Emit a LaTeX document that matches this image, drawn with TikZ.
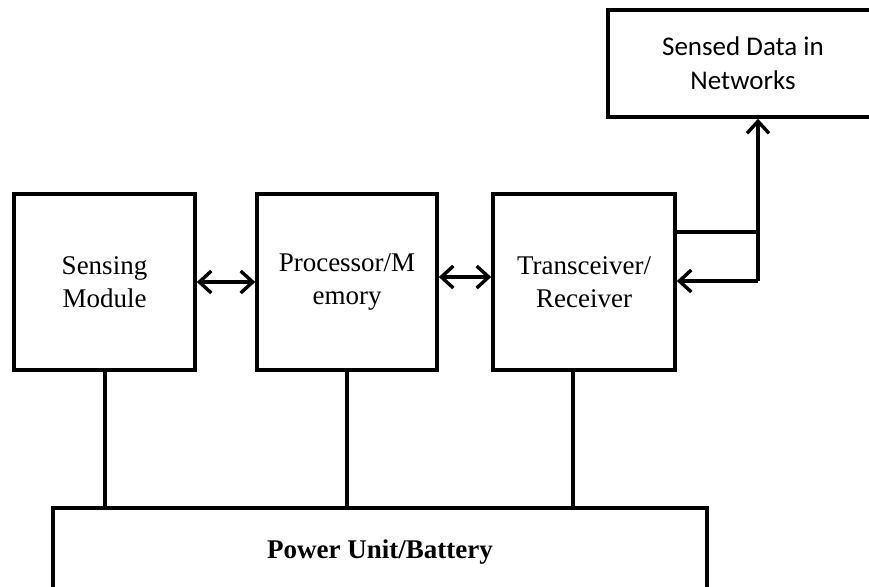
\documentclass[tikz,border=0pt]{standalone}
\usepackage{fontspec}
\setmainfont{Liberation Serif}
\newfontfamily\labelsans{Carlito}
\usetikzlibrary{arrows.meta}

\begin{document}
\begin{tikzpicture}[x=1pt,y=-1pt,
  block/.style={draw, line width=3.6pt, inner sep=0pt, align=center,
    font=\fontsize{27}{33}\selectfont},
  link/.style={line width=3.4pt},
  barb/.tip={Straight Barb[length=12pt,width=22pt,line width=3.4pt]},
  biarrow/.style={line width=3.4pt, barb-barb},
  onearrow/.style={line width=3.4pt, -barb}]

\useasboundingbox (0,0) rectangle (869,586);
\clip (0,0) rectangle (869,586);

% main blocks
\node[block, minimum width=181pt, minimum height=176pt] (sense) at (104.5,282) {Sensing\\Module};
\node[block, minimum width=180pt, minimum height=176pt] (proc) at (347,282) {Processor/M\\emory};
\node[block, minimum width=182pt, minimum height=176pt] (trx) at (584,282) {Transceiver/\\Receiver};

% network sink (runs past the right edge)
\node[block, minimum width=270pt, minimum height=107pt,
      font=\labelsans\fontsize{27}{34}\selectfont] (net) at (743,63.5) {Sensed Data in\\Networks};

% power supply (runs past the bottom edge)
\node[block, minimum width=654pt, minimum height=88pt,
      font=\bfseries\fontsize{27}{33}\selectfont] (power) at (380,552) {Power Unit/Battery};

% data links between blocks
\coordinate (a1) at (195,282);
\coordinate (a2) at (437,277);
\draw[biarrow] (sense.east |- a1) -- (proc.west |- a1);
\draw[biarrow] (proc.east |- a2) -- (trx.west |- a2);

% uplink / downlink loop to the network
\coordinate (up) at (758,232);
\coordinate (down) at (758,281);
\draw[link] (up -| trx.east) -- (up);
\draw[onearrow] (down) -- (down -| trx.east);
\draw[onearrow] (down) -- (down |- net.south);

% power feeds
\coordinate (p1) at (105,0);
\coordinate (p2) at (347,0);
\coordinate (p3) at (573,0);
\draw[link] (p1 |- sense.south) -- (p1 |- power.north);
\draw[link] (p2 |- proc.south) -- (p2 |- power.north);
\draw[link] (p3 |- trx.south) -- (p3 |- power.north);
\end{tikzpicture}
\end{document}
